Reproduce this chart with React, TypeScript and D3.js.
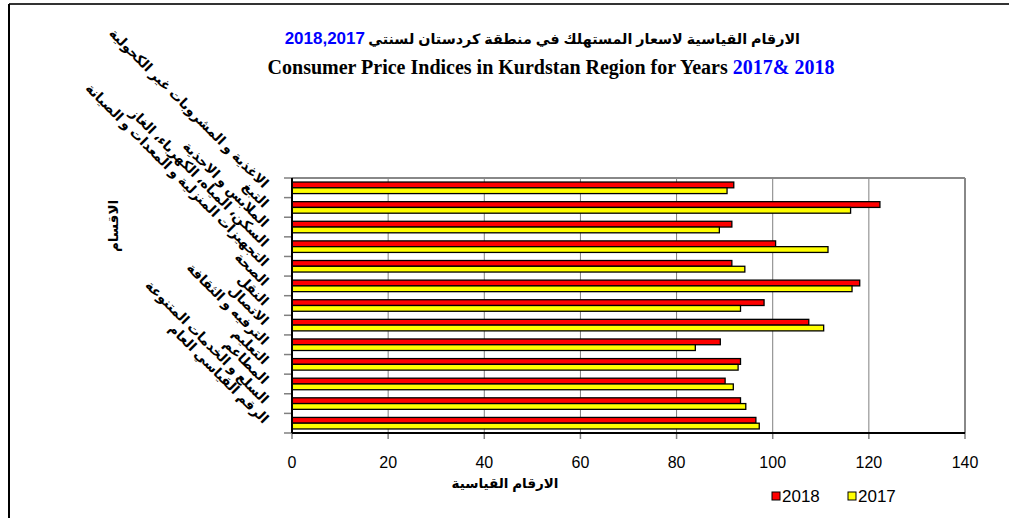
import React from "react";
import * as d3 from "d3";

// categories, top to bottom
const categories = [
  "الاغذية و المشروبات غير الكحولية",
  "التبغ",
  "الملابس و الاحذية",
  "السكن، المياه، الكهرباء، الغاز",
  "التجهيزات المنزلية و المعدات و الصيانة",
  "الصحة",
  "النقل",
  "الاتصال",
  "الترفيه و الثقافة",
  "التعليم",
  "المطاعم",
  "السلع و الخدمات المتنوعة",
  "الرقم القياسي العام",
];
const values2018 = [91.9, 122.3, 91.5, 100.6, 91.5, 118.1, 98.2, 107.5, 89.1, 93.3, 90.1, 93.3, 96.5];
const values2017 = [90.5, 116.2, 88.9, 111.5, 94.2, 116.5, 93.3, 110.6, 83.9, 92.8, 91.8, 94.4, 97.2];
const seriesNames = ["2018", "2017"];
const seriesColors = ["#ff0000", "#ffff00"];
const xTicks = [0, 20, 40, 60, 80, 100, 120, 140];

const W = 1009;
const H = 518;
const plot = { left: 292, right: 965, top: 178, bottom: 433 };
const arabicFont = "Arial, 'Liberation Sans', 'DejaVu Sans', sans-serif";

export default function App() {
  const x = d3.scaleLinear().domain([0, 140]).range([plot.left, plot.right]);
  const y = d3.scaleBand<string>().domain(categories).range([plot.top, plot.bottom]);
  const sub = d3
    .scaleBand<string>()
    .domain(seriesNames)
    .range([0, y.bandwidth()])
    .paddingInner(0)
    .paddingOuter(0.7);
  const series = [values2018, values2017];

  const boundaries = categories.map((c) => y(c)!).concat([plot.bottom]);

  return (
    <svg
      width={W}
      height={H}
      style={{ position: "absolute", left: 0, top: 0, background: "#fff" }}
    >
      <rect x={0} y={0} width={W} height={H} fill="#fff" />
      {/* outer chart border (top & left visible) */}
      <line x1={9} y1={4} x2={W} y2={4} stroke="#333" strokeWidth={2} />
      <line x1={9} y1={4} x2={9} y2={H} stroke="#000" strokeWidth={2} />

      {/* titles */}
      <text
        x={800}
        y={44}
        textAnchor="end"
        fontFamily={arabicFont}
        fontWeight="bold"
        fontSize={14.3}
      >
        الارقام القياسية لاسعار المستهلك في منطقة كردستان لسنتي
      </text>
      <text
        x={365}
        y={44}
        textAnchor="end"
        fontFamily={arabicFont}
        fontWeight="bold"
        fontSize={17}
        fill="#0000ff"
      >
        2018,2017
      </text>
      <text
        x={551}
        y={74}
        textAnchor="middle"
        fontFamily="'Times New Roman', 'Liberation Serif', serif"
        fontWeight="bold"
        fontSize={20}
      >
        Consumer Price Indices in Kurdstan Region for Years{" "}
        <tspan fill="#0000ff">2017&amp; 2018</tspan>
      </text>

      {/* gridlines */}
      {xTicks.slice(1, -1).map((t) => (
        <line
          key={"g" + t}
          x1={x(t)}
          x2={x(t)}
          y1={plot.top}
          y2={plot.bottom}
          stroke="#808080"
          strokeWidth={1}
        />
      ))}
      {/* plot border top/right */}
      <line x1={plot.left} x2={plot.right} y1={plot.top} y2={plot.top} stroke="#888" strokeWidth={2} />
      <line x1={plot.right} x2={plot.right} y1={plot.top} y2={plot.bottom} stroke="#888" strokeWidth={2} />

      {/* bars */}
      {categories.map((c, i) => (
        <g key={c}>
          {series.map((vals, s) => (
            <rect
              key={s}
              x={x(0)}
              y={y(c)! + sub(seriesNames[s])!}
              width={x(vals[i]) - x(0)}
              height={sub.bandwidth()}
              fill={seriesColors[s]}
              stroke="#000"
              strokeWidth={1.3}
            />
          ))}
        </g>
      ))}

      {/* left axis ticks */}
      {boundaries.map((b, i) => (
        <line key={"yt" + i} x1={plot.left - 8} x2={plot.left} y1={b} y2={b} stroke="#808080" strokeWidth={1.5} />
      ))}
      {/* bottom axis ticks */}
      {xTicks.map((t) => (
        <line key={"xt" + t} x1={x(t)} x2={x(t)} y1={plot.bottom} y2={plot.bottom + 6} stroke="#808080" strokeWidth={1.5} />
      ))}
      {/* axis lines */}
      <line x1={plot.left} x2={plot.left} y1={plot.top} y2={plot.bottom} stroke="#000" strokeWidth={2} />
      <line x1={plot.left} x2={plot.right} y1={plot.bottom} y2={plot.bottom} stroke="#000" strokeWidth={2} />

      {/* x tick labels */}
      {xTicks.map((t) => (
        <text
          key={"xl" + t}
          x={x(t)}
          y={468}
          textAnchor="middle"
          fontFamily="Arial, 'Liberation Sans', sans-serif"
          fontSize={16}
        >
          {t}
        </text>
      ))}

      {/* category labels */}
      {categories.map((c) => (
        <text
          key={"cl" + c}
          transform={`translate(${263},${y(c)! + y.bandwidth() / 2 + 1}) rotate(45)`}
          textAnchor="end"
          fontFamily={arabicFont}
          fontWeight="bold"
          fontSize={13.5}
        >
          {c}
        </text>
      ))}

      {/* axis titles */}
      <text
        transform="translate(118,226) rotate(-90)"
        textAnchor="middle"
        fontFamily={arabicFont}
        fontWeight="bold"
        fontSize={13.5}
      >
        الاقسام
      </text>
      <text
        x={505}
        y={488}
        textAnchor="middle"
        fontFamily={arabicFont}
        fontWeight="bold"
        fontSize={13.5}
      >
        الارقام القياسية
      </text>

      {/* legend */}
      {seriesNames.map((s, i) => (
        <g key={"lg" + s} transform={`translate(${772 + i * 76},492)`}>
          <rect x={0} y={0} width={8} height={8} fill={seriesColors[i]} stroke="#000" strokeWidth={1} />
          <text x={10} y={10} fontFamily="Arial, 'Liberation Sans', sans-serif" fontSize={17}>
            {s}
          </text>
        </g>
      ))}
    </svg>
  );
}
